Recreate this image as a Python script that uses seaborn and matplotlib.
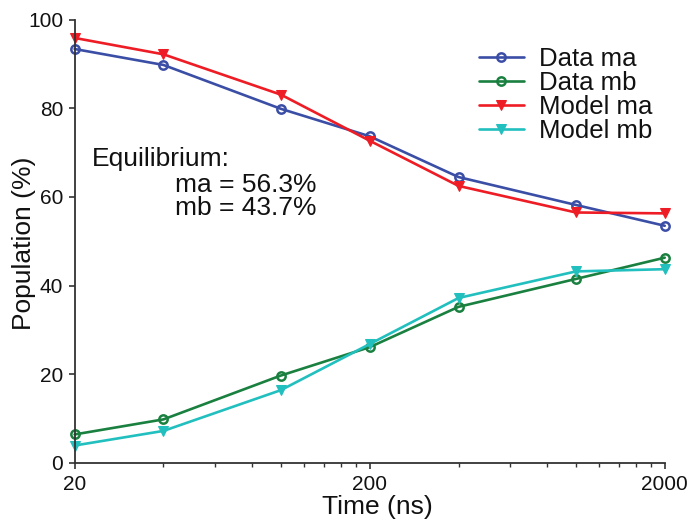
import numpy as np
import pandas as pd
import matplotlib
matplotlib.use("Agg")
import matplotlib.pyplot as plt
import seaborn as sns
from matplotlib.ticker import FixedLocator, NullFormatter

# ── datos ─────────────────────────────────────────────────────
time_ns   = [20, 40, 100, 200, 400, 1000, 2000]
data_ma   = [93.4, 89.8, 79.9, 73.7, 64.5, 58.2, 53.5]
data_mb   = [6.4, 9.8, 19.7, 26.1, 35.2, 41.5, 46.3]
model_ma  = [95.9, 92.2, 83.1, 72.7, 62.5, 56.5, 56.3]
model_mb  = [3.9, 7.2, 16.4, 26.8, 37.2, 43.2, 43.7]
series    = ["Data ma", "Data mb", "Model ma", "Model mb"]
colores   = ["#3b4ea6", "#1a8040", "#ee1c24", "#22bfbf"]

df = pd.DataFrame({
    "Time": time_ns * 4,
    "Population": data_ma + data_mb + model_ma + model_mb,
    "Serie": sum([[s] * len(time_ns) for s in series], []),
})

sns.set_style("ticks")
plt.rcParams["font.family"] = ["Liberation Sans", "DejaVu Sans"]

fig, ax = plt.subplots(figsize=(6.91, 5.2), dpi=100)
fig.subplots_adjust(left=0.108, right=0.962, top=0.962, bottom=0.11)

for s, c in zip(series, colores):
    d = df[df["Serie"] == s]
    if s.startswith("Data"):
        kw = dict(marker="o", markersize=6, markerfacecolor="none",
                  markeredgecolor=c, markeredgewidth=1.8)
    else:
        kw = dict(marker="v", markersize=7.5, markerfacecolor=c,
                  markeredgecolor=c)
    sns.lineplot(data=d, x="Time", y="Population", ax=ax, color=c,
                 linewidth=1.9, label=s, **kw)

ax.set_xscale("log")
ax.set_xlim(20, 2000)
ax.set_ylim(0, 100)
ax.xaxis.set_major_locator(FixedLocator([20, 200, 2000]))
ax.set_xticklabels(["20", "200", "2000"])
ax.xaxis.set_minor_locator(FixedLocator(list(range(40, 200, 20)) +
                                        list(range(400, 2000, 200))))
ax.xaxis.set_minor_formatter(NullFormatter())
ax.set_yticks([0, 20, 40, 60, 80, 100])
ax.tick_params(axis="both", which="major", labelsize=15, length=4.5,
               width=1.2, color="#333333", labelcolor="#111111")
ax.tick_params(axis="y", which="major", pad=3.7)
ax.tick_params(axis="x", which="major", pad=4.5)
ax.tick_params(axis="x", which="minor", length=3, width=1, color="#333333")
sns.despine(ax=ax)
for sp in ["left", "bottom"]:
    ax.spines[sp].set_linewidth(1.3)
    ax.spines[sp].set_color("#333333")

ax.set_xlabel("Time (ns)", fontsize=19, color="#111111")
ax.set_ylabel("Population (%)", fontsize=19, color="#111111")
ax.xaxis.set_label_coords(0.513, -0.072)
ax.yaxis.set_label_coords(-0.066, 0.4955)

ax.text(0.03, 0.685, "Equilibrium:", transform=ax.transAxes, fontsize=19,
        va="center", color="#111111")
ax.text(0.17, 0.628, "ma = 56.3%", transform=ax.transAxes, fontsize=19,
        va="center", color="#111111")
ax.text(0.17, 0.574, "mb = 43.7%", transform=ax.transAxes, fontsize=19,
        va="center", color="#111111")

leg = ax.legend(loc="upper right", bbox_to_anchor=(1.01, 0.978), frameon=False,
                fontsize=18.5, handlelength=1.75, labelspacing=0.0,
                borderaxespad=0.3, handletextpad=0.6)
for t in leg.get_texts():
    t.set_color("#111111")
for sp in ax.spines.values():
    sp.set_clip_on(False)
for ln in ax.lines:
    ln.set_clip_on(False)

fig.savefig("out.png", dpi=100)
